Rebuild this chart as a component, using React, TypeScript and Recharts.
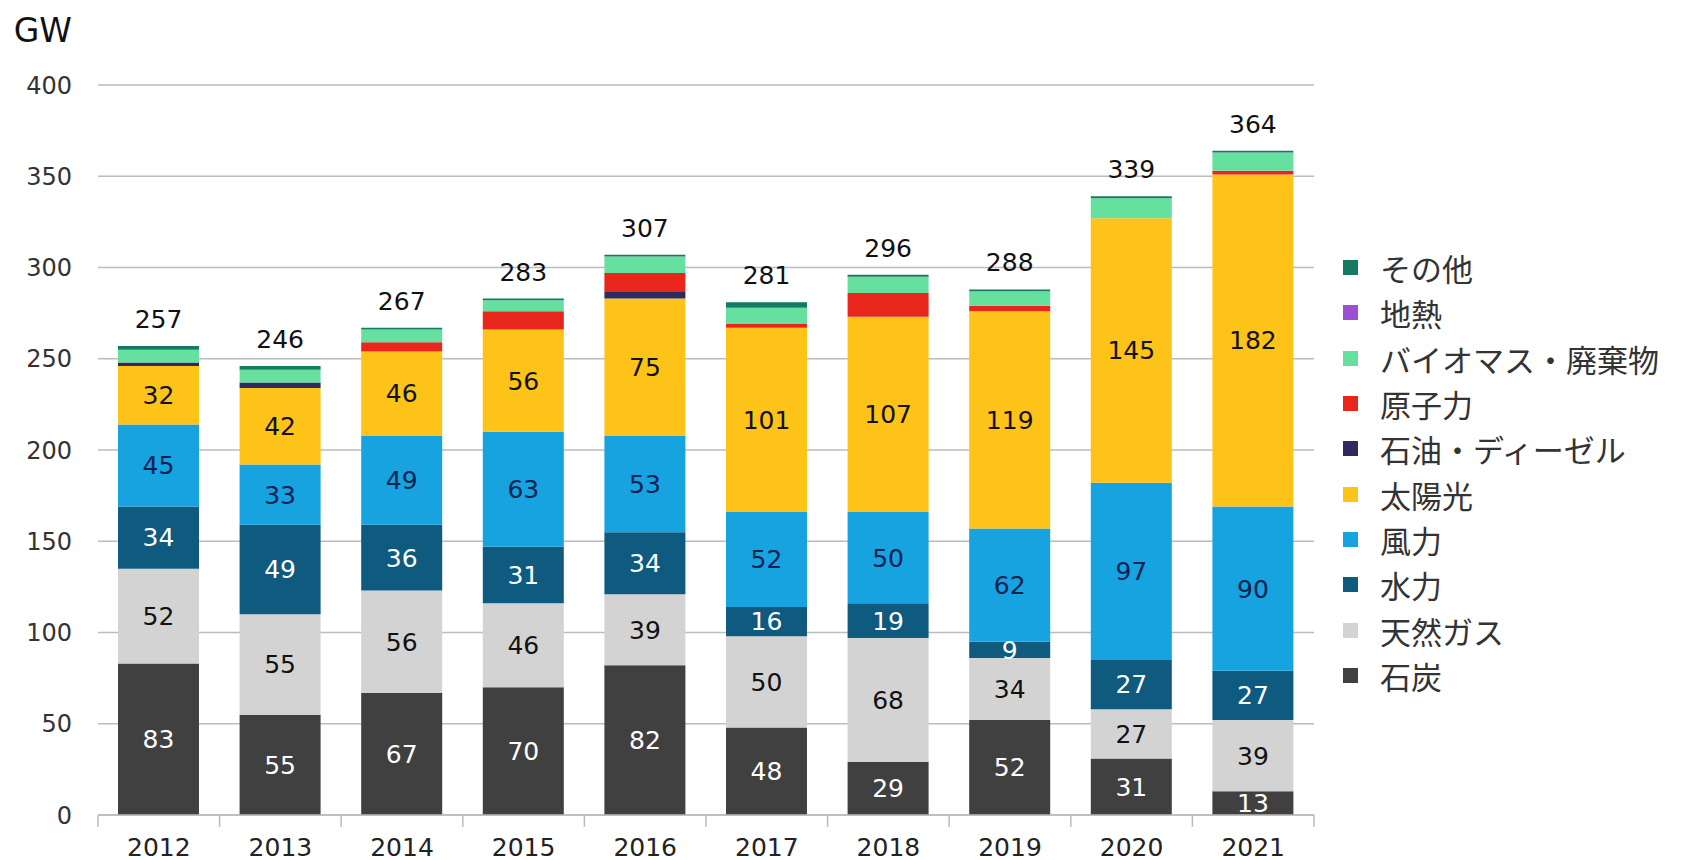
import React from 'react'
import { BarChart, Bar, XAxis, YAxis, CartesianGrid, Legend, LabelList } from 'recharts'

const years = ['2012', '2013', '2014', '2015', '2016', '2017', '2018', '2019', '2020', '2021']

const coal = [83, 55, 67, 70, 82, 48, 29, 52, 31, 13]
const gas = [52, 55, 56, 46, 39, 50, 68, 34, 27, 39]
const hydro = [34, 49, 36, 31, 34, 16, 19, 9, 27, 27]
const wind = [45, 33, 49, 63, 53, 52, 50, 62, 97, 90]
const solar = [32, 42, 46, 56, 75, 101, 107, 119, 145, 182]
const oil = [2, 3, 0, 0, 4, 0, 0, 0, 0, 0]
const nuclear = [0, 0, 5, 10, 10, 2, 13, 3, 0, 2]
const biomass = [7, 7, 7, 6, 9, 9, 9, 8, 11, 10]
const geothermal = [0, 0, 0, 0, 0, 0, 0, 0, 0, 0]
const other = [2, 2, 1, 1, 1, 3, 1, 1, 1, 1]
const totals = [257, 246, 267, 283, 307, 281, 296, 288, 339, 364]

const yTicks = [0, 50, 100, 150, 200, 250, 300, 350, 400]

// bottom -> top stacking order
const series = [
  { key: 'coal', name: '石炭', color: '#404040', label: '#ffffff', values: coal },
  { key: 'gas', name: '天然ガス', color: '#d3d3d3', label: '#111111', values: gas },
  { key: 'hydro', name: '水力', color: '#0f5a7f', label: '#ffffff', values: hydro },
  { key: 'wind', name: '風力', color: '#17a2e0', label: '#0b2150', values: wind },
  { key: 'solar', name: '太陽光', color: '#fdc318', label: '#111111', values: solar },
  { key: 'oil', name: '石油・ディーゼル', color: '#2e2a5c', label: null, values: oil },
  { key: 'nuclear', name: '原子力', color: '#e8261c', label: null, values: nuclear },
  { key: 'biomass', name: 'バイオマス・廃棄物', color: '#66e09e', label: null, values: biomass },
  { key: 'geothermal', name: '地熱', color: '#9b4fd1', label: null, values: geothermal },
  { key: 'other', name: 'その他', color: '#147a63', label: null, values: other },
]

const data = years.map((year, i) => {
  const row: Record<string, string | number> = { year, total: totals[i] }
  series.forEach((s) => { row[s.key] = s.values[i] })
  return row
})

const W = 1681
const H = 860
const MARGIN = { top: 85, right: 367, bottom: 5, left: 0 }
const Y_AXIS_W = 98
const BAND = (W - MARGIN.left - Y_AXIS_W - MARGIN.right) / years.length
const FONT = '"DejaVu Sans", Verdana, sans-serif'
const JP_FONT = '"Noto Sans CJK JP", "Noto Sans", sans-serif'

function YearTick({ x, y, payload, index }: any) {
  const half = BAND / 2
  return (
    <g>
      <line x1={x - half} y1={y} x2={x - half} y2={y + 12} stroke="#bbbbbb" strokeWidth={1.5} />
      {index === years.length - 1 && (
        <line x1={x + half} y1={y} x2={x + half} y2={y + 12} stroke="#bbbbbb" strokeWidth={1.5} />
      )}
      <text x={x} y={y + 32} textAnchor="middle" dominantBaseline="central" fontSize={25} fill="#222" fontFamily={FONT}>
        {payload.value}
      </text>
    </g>
  )
}

function LegendBox() {
  const items = [...series].reverse()
  return (
    <div style={{ fontFamily: JP_FONT }}>
      {items.map((s) => (
        <div key={s.key} style={{ display: 'flex', alignItems: 'center', height: 45.3 }}>
          <span style={{ width: 15, height: 15, background: s.color, display: 'inline-block', marginRight: 22 }} />
          <span style={{ fontSize: 31, color: '#333', lineHeight: '45px', whiteSpace: 'nowrap' }}>{s.name}</span>
        </div>
      ))}
    </div>
  )
}

export default function App() {
  return (
    <div style={{ position: 'absolute', left: 0, top: 0, width: W, height: H, background: '#fff', fontFamily: FONT }}>
      <div style={{ position: 'absolute', left: 0, top: 14, width: 72, textAlign: 'right', fontSize: 33, lineHeight: '33px', color: '#111', fontFamily: FONT }}>
        GW
      </div>
      <BarChart width={W} height={H} data={data} margin={MARGIN} barSize={81}>
        <CartesianGrid vertical={false} stroke="#bcbcbc" strokeWidth={1.5} />
        <XAxis
          dataKey="year"
          height={40}
          tickSize={0}
          tickMargin={0}
          tickLine={false}
          axisLine={{ stroke: '#bbbbbb', strokeWidth: 1.5 }}
          tick={<YearTick />}
          interval={0}
        />
        <YAxis
          width={Y_AXIS_W}
          domain={[0, 400]}
          ticks={yTicks}
          tickLine={false}
          axisLine={false}
          tickMargin={20}
          tick={{ fontSize: 24, fill: '#333', fontFamily: FONT }}
        />
        <Legend
          layout="vertical"
          align="center"
          verticalAlign="middle"
          wrapperStyle={{ left: 1343, top: 245, width: 338 }}
          content={<LegendBox />}
        />
        {series.map((s) => (
          <Bar key={s.key} dataKey={s.key} name={s.name} stackId="a" fill={s.color} isAnimationActive={false}>
            {s.label && (
              <LabelList dataKey={s.key} position="center" fill={s.label} fontSize={25} fontFamily={FONT} />
            )}
            {s.key === 'other' && (
              <LabelList dataKey="total" position="top" offset={18} fill="#111" fontSize={25} fontFamily={FONT} />
            )}
          </Bar>
        ))}
      </BarChart>
    </div>
  )
}
